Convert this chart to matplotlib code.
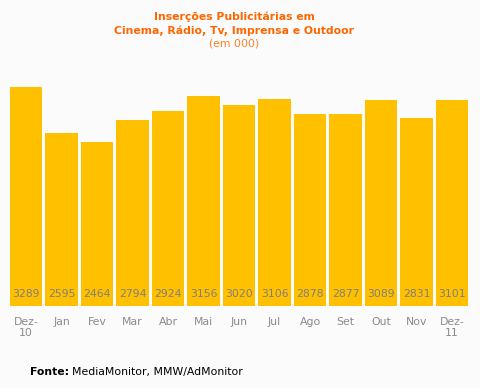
import matplotlib.pyplot as plt
import numpy as np

meses = ['Dez-\n10', 'Jan', 'Fev', 'Mar', 'Abr', 'Mai', 'Jun', 'Jul', 'Ago', 'Set', 'Out', 'Nov', 'Dez-\n11']
insercoes = [3289, 2595, 2464, 2794, 2924, 3156, 3020, 3106, 2878, 2877, 3089, 2831, 3101]

bg = '#fbfbfb'
fig = plt.figure(figsize=(4.81, 3.88), dpi=100, facecolor=bg)
# eixo em pixels: esquerda 8, direita 470, base 306, topo 73
ax = fig.add_axes([8.3 / 481, (388 - 306) / 388, 461.5 / 481, (306 - 73) / 388])
ax.set_facecolor(bg)

x = np.arange(len(meses))
ax.bar(x, insercoes, width=0.91, color='#ffc000')
for xi, v in zip(x, insercoes):
    ax.text(xi, 175, str(v), ha='center', va='center', fontsize=7.8, color='#808080')

ax.set_xlim(-0.5, len(meses) - 0.5)
ax.set_ylim(0, 3500)
ax.set_xticks(x)
ax.set_xticklabels(meses, fontsize=7.8, color='#8a8a8a', linespacing=1.15)
ax.tick_params(axis='x', length=0, pad=8)
ax.set_yticks([])
for s in ax.spines.values():
    s.set_visible(False)

fig.text(0.487, 1 - 17 / 388, 'Inserções Publicitárias em', ha='center', va='center',
         fontsize=7.8, fontweight='bold', color='#ff6600')
fig.text(0.487, 1 - 31 / 388, 'Cinema, Rádio, Tv, Imprensa e Outdoor', ha='center', va='center',
         fontsize=7.8, fontweight='bold', color='#ff6600')
fig.text(0.487, 1 - 44 / 388, '(em 000)', ha='center', va='center',
         fontsize=7.8, color='#ff7f27')

fig.text(30 / 481, 1 - 372 / 388, 'Fonte:', ha='left', va='center',
         fontsize=7.8, fontweight='bold', color='black')
fig.text(72 / 481, 1 - 372 / 388, 'MediaMonitor, MMW/AdMonitor', ha='left', va='center',
         fontsize=7.8, color='black')

fig.savefig('out.png', dpi=100, facecolor=bg)
